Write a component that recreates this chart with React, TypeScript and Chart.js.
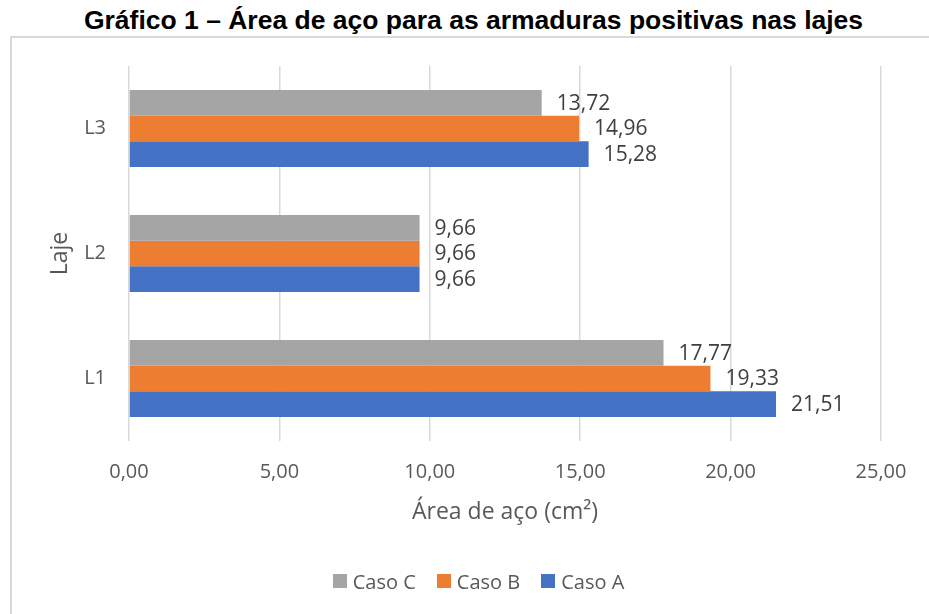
import React, { useEffect, useRef } from "react";
import { Chart, registerables } from "chart.js";

Chart.register(...registerables);

const TITLE = "Gráfico 1 – Área de aço para as armaduras positivas nas lajes";
const categories = ["L3", "L2", "L1"];
const casoC = [13.72, 9.66, 17.77];
const casoB = [14.96, 9.66, 19.33];
const casoA = [15.28, 9.66, 21.51];
const seriesNames = ["Caso C", "Caso B", "Caso A"];
const seriesColors = ["#a5a5a5", "#ed7d31", "#4472c4"];
const xMin = 0;
const xMax = 25;
const xStep = 5;
const xTitle = "Área de aço (cm²)";
const yTitle = "Laje";

const fmt = (v: number) => v.toFixed(2).replace(".", ",");
const FONT = "'Open Sans', 'DejaVu Sans', sans-serif";

const dataLabels = {
  id: "dataLabels",
  afterDatasetsDraw(chart: any) {
    const ctx = chart.ctx;
    ctx.save();
    ctx.font = `21px ${FONT}`;
    ctx.fillStyle = "#404040";
    ctx.textAlign = "left";
    ctx.textBaseline = "middle";
    chart.data.datasets.forEach((ds: any, i: number) => {
      const meta = chart.getDatasetMeta(i);
      meta.data.forEach((bar: any, j: number) => {
        ctx.fillText(fmt(ds.data[j]), bar.x + 15, bar.y + 1);
      });
    });
    ctx.restore();
  },
};

export default function App() {
  const ref = useRef<HTMLCanvasElement | null>(null);
  useEffect(() => {
    if (!ref.current) return;
    const seriesData = [casoC, casoB, casoA];
    const chart = new Chart(ref.current, {
      type: "bar",
      data: {
        labels: categories,
        datasets: seriesNames.map((n, i) => ({
          label: n,
          data: seriesData[i],
          backgroundColor: seriesColors[i],
          borderWidth: 0,
          barPercentage: 1,
          categoryPercentage: 0.616,
        })),
      },
      options: {
        indexAxis: "y",
        responsive: false,
        animation: false,
        layout: { padding: { left: 0, right: 48, top: 66, bottom: 54 } },
        plugins: {
          legend: { display: false },
          tooltip: { enabled: false },
          title: { display: false },
        },
        scales: {
          x: {
            min: xMin,
            max: xMax,
            ticks: {
              stepSize: xStep,
              color: "#595959",
              font: { family: FONT, size: 20 },
              padding: 19,
              callback: (v: any) => fmt(Number(v)),
            },
            grid: { color: "#d9d9d9", lineWidth: 1.5, drawTicks: false },
            border: { display: false },
            title: {
              display: true,
              text: xTitle,
              color: "#595959",
              font: { family: FONT, size: 23 },
              padding: { top: 0, bottom: 34 },
            },
            afterFit: (s: any) => {
              s.height = 119;
            },
          },
          y: {
            ticks: {
              color: "#595959",
              font: { family: FONT, size: 20 },
              padding: 23,
            },
            grid: { display: false, drawTicks: false },
            border: { display: false },
            title: {
              display: true,
              text: yTitle,
              color: "#595959",
              font: { family: FONT, size: 23 },
              padding: { top: 47, bottom: 0 },
            },
            afterFit: (s: any) => {
              s.width = 129;
            },
          },
        },
      },
      plugins: [dataLabels],
    } as any);
    return () => chart.destroy();
  }, []);

  return (
    <div
      style={{
        position: "fixed",
        left: 0,
        top: 0,
        width: 929,
        height: 614,
        overflow: "hidden",
        background: "#fff",
      }}
    >
      <div
        style={{
          position: "absolute",
          left: 10,
          top: 36,
          width: 960,
          height: 640,
          border: "2px solid #d9d9d9",
        }}
      />
      <div
        style={{
          position: "absolute",
          left: 0,
          top: 5,
          width: 947,
          textAlign: "center",
          fontFamily: "'Liberation Sans', Arial, sans-serif",
          fontWeight: "bold",
          fontSize: 26.5,
          lineHeight: "30px",
          color: "#000",
          whiteSpace: "nowrap",
        }}
      >
        {TITLE}
      </div>
      <canvas
        ref={ref}
        width={929}
        height={614}
        style={{ position: "absolute", left: 0, top: 0, width: 929, height: 614 }}
      />
      <div
        style={{
          position: "absolute",
          left: 28,
          top: 567,
          width: 901,
          height: 28,
          display: "flex",
          justifyContent: "center",
          alignItems: "center",
          gap: 21,
          fontFamily: FONT,
          fontSize: 20,
          color: "#595959",
          whiteSpace: "nowrap",
        }}
      >
        {seriesNames.map((n, i) => (
          <div key={n} style={{ display: "flex", alignItems: "center", gap: 6 }}>
            <span
              style={{
                display: "inline-block",
                width: 14,
                height: 14,
                background: seriesColors[i],
              }}
            />
            <span>{n}</span>
          </div>
        ))}
      </div>
    </div>
  );
}
